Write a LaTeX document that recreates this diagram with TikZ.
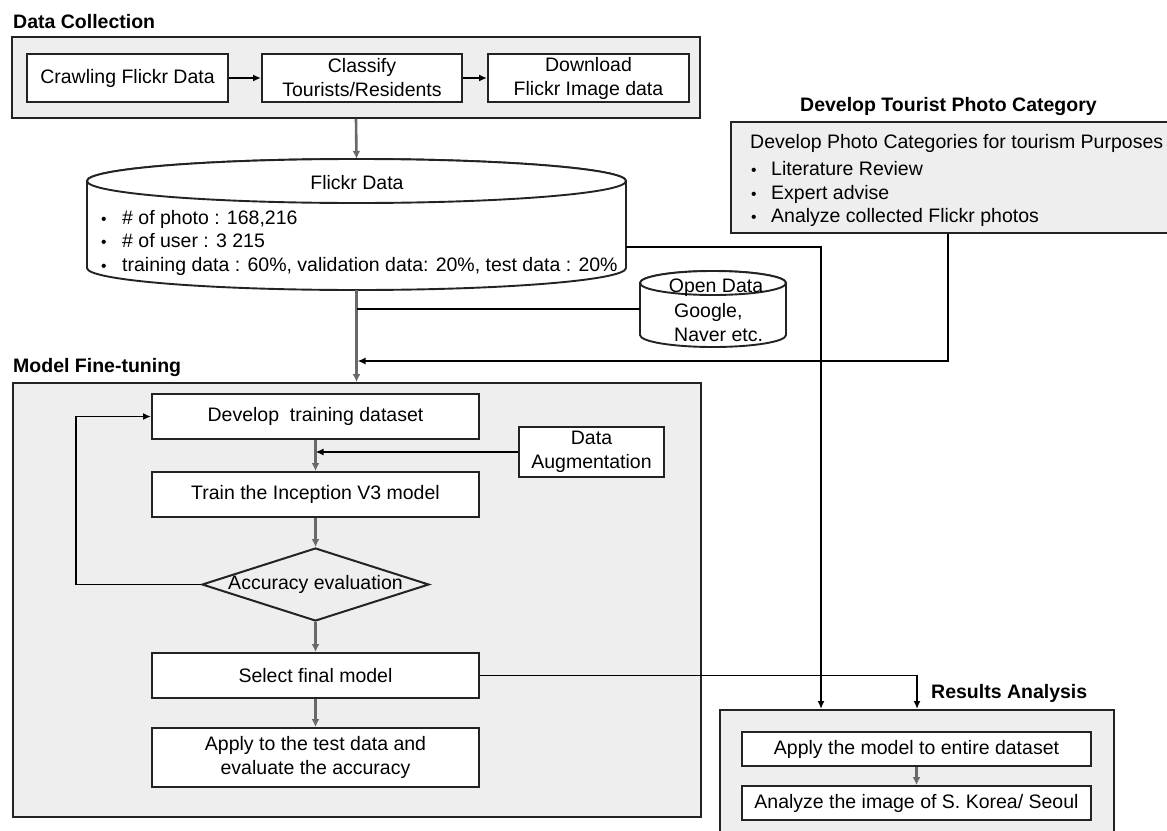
\documentclass[tikz,border=0pt]{standalone}
\usepackage{fontspec}
\setmainfont{Liberation Sans}
\usetikzlibrary{arrows.meta,shapes.geometric,calc}
\definecolor{grpfill}{RGB}{238,238,238}
\definecolor{flowgray}{RGB}{105,105,105}
\definecolor{edgecol}{RGB}{35,35,35}
\begin{document}
\begin{tikzpicture}[x=1pt,y=-1pt,
  every node/.style={font=\fontsize{19.5}{24}\selectfont, text=black},
  grp/.style={draw=edgecol, line width=2pt, fill=grpfill, inner sep=0pt},
  box/.style={draw=edgecol, line width=2pt, fill=white, inner sep=0pt, align=center},
  cyl/.style={draw=edgecol, line width=1.9pt, fill=white},
  titletext/.style={font=\fontsize{19.5}{24}\selectfont\bfseries, anchor=base west, inner sep=0pt},
  txt/.style={anchor=base west, inner sep=0pt},
  ctxt/.style={anchor=base, inner sep=0pt},
  flow/.style={draw=flowgray, line width=2.6pt, -{Latex[length=8pt,width=8pt]}},
  link/.style={draw=black, line width=1.9pt},
  linkarrow/.style={link, -{Latex[length=8pt,width=7pt]}}
]
\useasboundingbox (0,0) rectangle (1167,830);
\clip (0,0) rectangle (1167,830);

% ---- group boxes
\node[grp, minimum width=688pt, minimum height=81pt] (dc) at (356,77.5) {};
\node[grp, anchor=north west, minimum width=442pt, minimum height=111pt] (dpc) at (730,121) {};
\node[grp, minimum width=688pt, minimum height=434pt] (mft) at (357,600) {};
\node[grp, anchor=north west, minimum width=394pt, minimum height=140pt] (res) at (719,709) {};

% ---- titles
\node[titletext] (t1) at (13,28) {Data Collection};
\node[titletext] (t2) at (800,111) {Develop Tourist Photo Category};
\node[titletext] (t3) at (13,372) {Model Fine-tuning};
\node[titletext] (t4) at (931,698) {Results Analysis};

% ---- data collection boxes
\node[box, minimum width=201pt, minimum height=48pt] (crawl) at (127.5,78) {Crawling Flickr Data};
\node[box, minimum width=200pt, minimum height=48pt] (classify) at (362,78) {Classify\\Tourists/Residents};
\node[box, minimum width=201pt, minimum height=48pt] (download) at (588.5,78) {Download\\Flickr Image data};
\draw[linkarrow] (crawl) -- (classify);
\draw[linkarrow] (classify) -- (download);

% ---- Flickr data cylinder
\node[minimum width=539pt, minimum height=131pt, inner sep=0pt] (flickr) at (356.5,224.5) {};
\draw[cyl] (87,181) -- (87,268) arc[start angle=180, end angle=360, x radius=269.5pt, y radius=22pt]
  -- (626,181) arc[start angle=0, end angle=180, x radius=269.5pt, y radius=22pt] -- cycle;
\draw[cyl] (356.5,181) ellipse[x radius=269.5pt, y radius=22pt];
\node[ctxt] (fltitle) at (357,189) {Flickr Data};
\node[txt] (fl1) at (101,224) {\makebox[21pt][l]{\scalebox{0.8}{•}}\# of photo : 168,216};
\node[txt] (fl2) at (101,247.5) {\makebox[21pt][l]{\scalebox{0.8}{•}}\# of user : 3 215};
\node[txt] (fl3) at (101,271) {\makebox[21pt][l]{\scalebox{0.8}{•}}training data : 60\%, validation data: 20\%, test data : 20\%};

% ---- Open data cylinder
\node[minimum width=146pt, minimum height=76pt, inner sep=0pt] (opendata) at (713,309) {};
\draw[cyl] (640,283) -- (640,335) arc[start angle=180, end angle=360, x radius=73pt, y radius=12pt]
  -- (786,283) arc[start angle=0, end angle=180, x radius=73pt, y radius=12pt] -- cycle;
\draw[cyl] (713,283) ellipse[x radius=73pt, y radius=12pt];
\node[ctxt] (odtitle) at (716,292) {Open Data};
\node[txt] (od1) at (674,317) {Google,};
\node[txt] (od2) at (674,341) {Naver etc.};

% ---- develop tourist photo category texts
\node[txt] (dpct) at (750,148) {Develop Photo Categories for tourism Purposes};
\node[txt] (dpc1) at (751,175) {\makebox[20pt][l]{\scalebox{0.8}{•}}Literature Review};
\node[txt] (dpc2) at (751,199.5) {\makebox[20pt][l]{\scalebox{0.8}{•}}Expert advise};
\node[txt] (dpc3) at (751,222) {\makebox[20pt][l]{\scalebox{0.8}{•}}Analyze collected Flickr photos};

% ---- model fine-tuning
\node[box, minimum width=327pt, minimum height=45pt] (develop) at (315.5,416.5) {Develop\ \ training dataset};
\node[box, minimum width=327pt, minimum height=45pt] (train) at (315.5,494.5) {Train the Inception V3 model};
\node[diamond, draw=edgecol, line width=2pt, minimum width=227pt, minimum height=73pt, inner sep=0pt] (acc) at (315.5,584.5) {};
\node[inner sep=0pt] (acctext) at (acc) {Accuracy evaluation};
\node[box, minimum width=327pt, minimum height=45pt] (select) at (315.5,675.5) {Select final model};
\node[box, minimum width=327pt, minimum height=59pt] (applyt) at (315.5,757.5) {Apply to the test data and\\evaluate the accuracy};
\node[box, minimum width=145pt, minimum height=50pt] (dataaug) at (591.5,452) {Data\\Augmentation};

% ---- results analysis
\node[box, minimum width=349pt, minimum height=34pt] (applym) at (916.5,749) {Apply the model to entire dataset};
\node[box, minimum width=349pt, minimum height=34pt] (analyze) at (916.5,803) {Analyze the image of S. Korea/ Seoul};

% ---- coordinates for connectors
\coordinate (dpcs) at ([xshift=218pt]dpc.south west);
\coordinate (flr) at ([yshift=-22.5pt]flickr.east);
\coordinate (joinpt) at (356.5,361);

% ---- connectors
\draw[flow] (dc.south) -- (flickr.north);
\draw[flow] (flickr.south) -- (flickr.south |- mft.north);
\draw[link] (opendata.west) -- (opendata.west -| flickr.south);
\draw[linkarrow, shorten >=1pt] (dpcs) |- (joinpt);
\draw[linkarrow] (flr) -| ([xshift=102pt]res.north west);
\draw[linkarrow] (select.east) -| (res.north);

\draw[flow] (develop) -- (train);
\draw[linkarrow] (dataaug.west) -- (dataaug.west -| develop.south);
\draw[flow] (train) -- (acc);
\draw[linkarrow] (acc.west) -- ++(-125,0) |- (develop.west);
\draw[flow] (acc) -- (select);
\draw[flow] (select) -- (applyt);
\draw[flow] (applym) -- (analyze);
\end{tikzpicture}
\end{document}
